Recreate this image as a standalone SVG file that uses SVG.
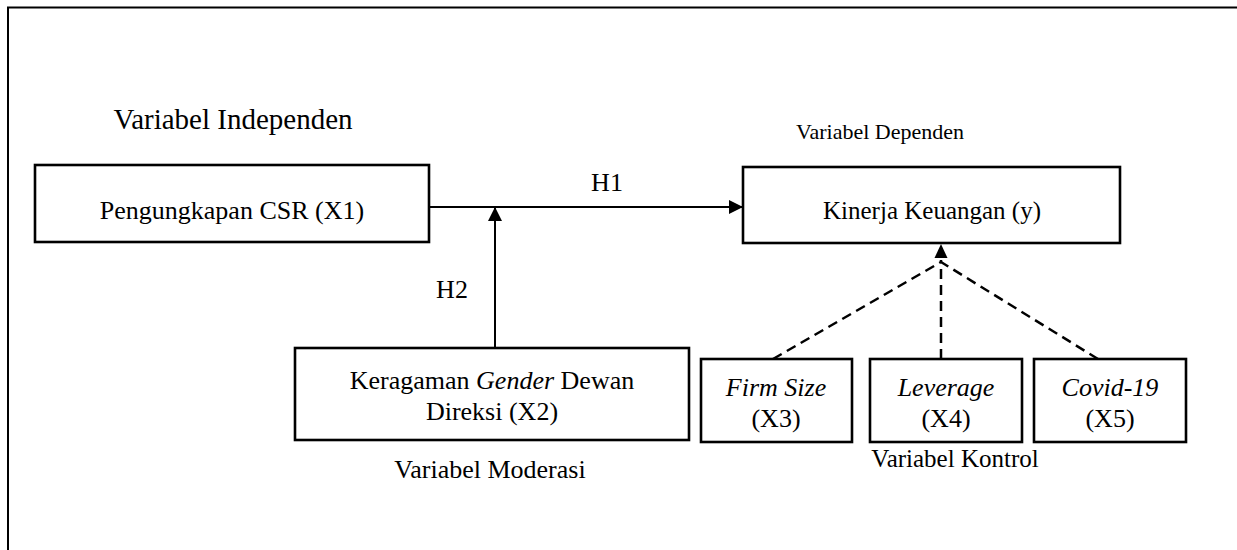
<svg xmlns="http://www.w3.org/2000/svg" width="1237" height="550" viewBox="0 0 1237 550">
<style>
text{font-family:'Liberation Serif','Times New Roman',serif;fill:#000;text-anchor:middle}
.box{fill:#fff;stroke:#000;stroke-width:2.6}
.ln{fill:none;stroke:#000;stroke-width:2}
.dash{fill:none;stroke:#000;stroke-width:2.5;stroke-dasharray:10 6}
.t{font-size:26px}
.it{font-style:italic}
</style>
<defs>
<marker id="ah" viewBox="0 0 14 14" refX="14" refY="7" markerWidth="14" markerHeight="14" markerUnits="userSpaceOnUse" orient="auto">
<path d="M0,0 L14,7 L0,14 Z" fill="#000"/>
</marker>
</defs>
<rect width="1237" height="550" fill="#fff"/>
<g id="frame">
<path d="M8,550 V7.5 H1237" fill="none" stroke="#000" stroke-width="2"/>
</g>
<g font-family="Liberation Serif, serif">
<g id="labels">
<text x="233" y="129" font-size="29">Variabel Independen</text>
<text x="880" y="139" font-size="22">Variabel Dependen</text>
<text x="490" y="478" class="t">Variabel Moderasi</text>
<text x="955" y="467" font-size="25">Variabel Kontrol</text>
<text x="607" y="191" class="t">H1</text>
<text x="452" y="298" class="t">H2</text>
</g>
<g id="connectors">
<line class="ln" x1="429" y1="207" x2="743" y2="207" marker-end="url(#ah)"/>
<line class="ln" x1="495" y1="348" x2="495" y2="207" marker-end="url(#ah)"/>
<line class="dash" x1="773" y1="359" x2="941" y2="262"/>
<line class="dash" x1="941" y1="359" x2="941" y2="260"/>
<line class="dash" x1="1098" y1="359" x2="941" y2="262"/>
<path d="M941,244 L947.5,258 L934.5,258 Z" fill="#000"/>
</g>
<g id="x1">
<rect class="box" x="35" y="165" width="394" height="77"/>
<text x="232" y="219" class="t">Pengungkapan CSR (X1)</text>
</g>
<g id="y">
<rect class="box" x="743" y="167" width="377" height="76"/>
<text x="932" y="219" font-size="25">Kinerja Keuangan (y)</text>
</g>
<g id="x2">
<rect class="box" x="295" y="348" width="394" height="92"/>
<text x="492" y="389" class="t">Keragaman <tspan font-style="italic">Gender</tspan> Dewan</text>
<text x="492" y="420" class="t">Direksi (X2)</text>
</g>
<g id="x3">
<rect class="box" x="701" y="359" width="151" height="83"/>
<text x="776" y="396" class="t" font-style="italic">Firm Size</text>
<text x="776" y="427" class="t">(X3)</text>
</g>
<g id="x4">
<rect class="box" x="870" y="359" width="152" height="83"/>
<text x="946" y="396" class="t" font-style="italic">Leverage</text>
<text x="946" y="427" class="t">(X4)</text>
</g>
<g id="x5">
<rect class="box" x="1034" y="359" width="152" height="83"/>
<text x="1110" y="396" class="t" font-style="italic">Covid-19</text>
<text x="1110" y="427" class="t">(X5)</text>
</g>
</g>
</svg>
